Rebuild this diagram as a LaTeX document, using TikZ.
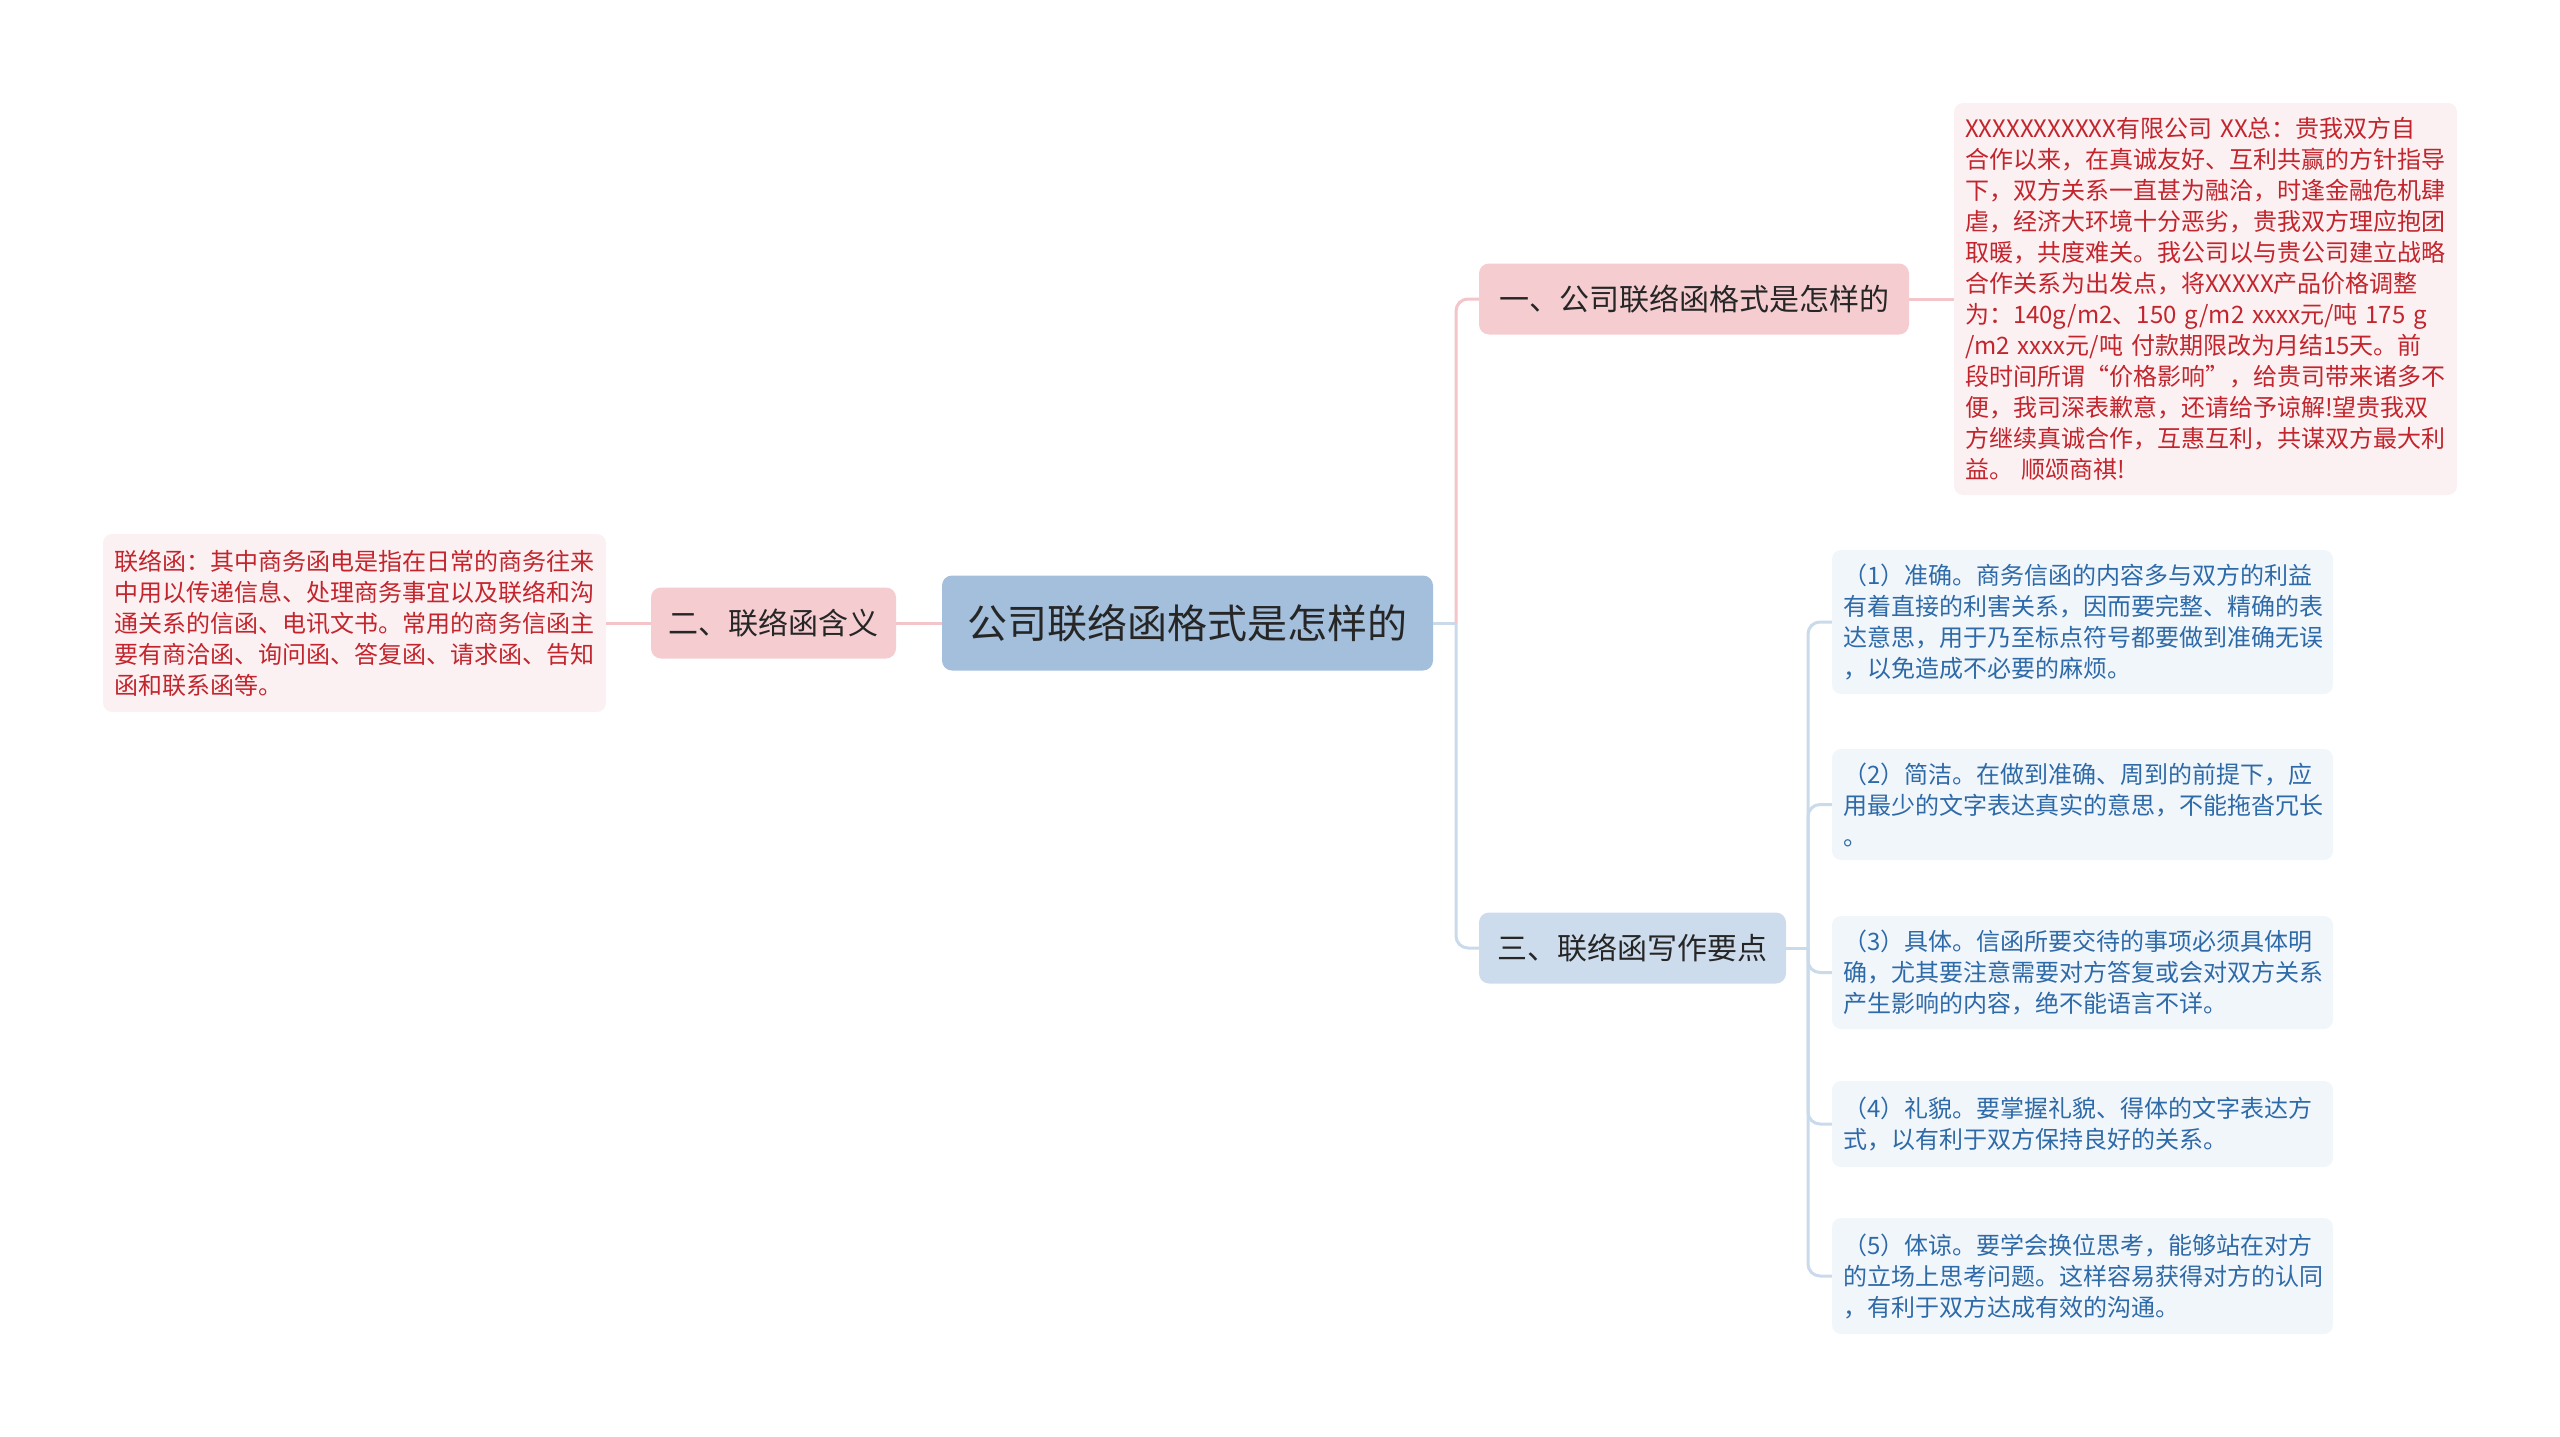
\documentclass[tikz,border=0pt]{standalone}
\usepackage{fontspec}
\setmainfont{Noto Sans CJK SC}
\definecolor{rootfill}{HTML}{A3BFDC}
\definecolor{pinkfill}{HTML}{F5CDD0}
\definecolor{bluefill}{HTML}{CCDCEC}
\definecolor{pinkleaf}{HTML}{FCF1F2}
\definecolor{blueleaf}{HTML}{F1F6FB}
\definecolor{redtext}{HTML}{C2252D}
\definecolor{bluetext}{HTML}{2E6AA8}
\definecolor{darktext}{HTML}{262626}
\definecolor{linepink}{HTML}{F3C5C9}
\definecolor{lineblue}{HTML}{C9DAEA}
\begin{document}
\begin{tikzpicture}[x=1pt,y=-1pt,
  rootbox/.style={fill=rootfill, rounded corners=10pt, minimum width=491pt, minimum height=95pt,
    text=darktext, font=\fontsize{40}{48}\selectfont, inner sep=0pt},
  topicbox/.style={rounded corners=10pt, minimum height=71pt, text=darktext,
    font=\fontsize{30}{36}\selectfont, inner sep=0pt},
  leafbox/.style={rounded corners=9pt, text width=481pt, inner xsep=11pt, inner ysep=0pt,
    align=left, font=\fontsize{24}{31}\selectfont},
  redleaf/.style={leafbox, fill=pinkleaf, text=redtext},
  blueleafbox/.style={leafbox, fill=blueleaf, text=bluetext, text width=479pt},
  pinkline/.style={draw=linepink, line width=3pt},
  blueline/.style={draw=lineblue, line width=3pt},
]
\useasboundingbox (0,0) rectangle (2560,1437);

% root
\node[rootbox] (root) at (1187.5,623) {公司联络函格式是怎样的};

% level 1
\node[topicbox, fill=pinkfill, minimum width=430pt] (t1) at (1694,299) {一、公司联络函格式是怎样的};
\node[topicbox, fill=pinkfill, minimum width=245pt] (t2) at (773.5,623) {二、联络函含义};
\node[topicbox, fill=bluefill, minimum width=307pt] (t3) at (1632.5,948) {三、联络函写作要点};

% leaves
\node[redleaf, minimum height=392pt] (l1) at (2205.5,299) {%
XXXXXXXXXXX有限公司~XX总：贵我双方自\\
合作以来，在真诚友好、互利共赢的方针指导\\
下，双方关系一直甚为融洽，时逢金融危机肆\\
虐，经济大环境十分恶劣，贵我双方理应抱团\\
取暖，共度难关。我公司以与贵公司建立战略\\
合作关系为出发点，将XXXXX产品价格调整\\
为：140g/m2、150~g/m2~xxxx元/吨~175~g\\
/m2~xxxx元/吨~付款期限改为月结15天。前\\
段时间所谓“价格影响”，给贵司带来诸多不\\
便，我司深表歉意，还请给予谅解!望贵我双\\
方继续真诚合作，互惠互利，共谋双方最大利\\
益。~顺颂商祺!};

\node[redleaf, minimum height=178pt] (l2) at (354.5,623) {%
联络函：其中商务函电是指在日常的商务往来\\
中用以传递信息、处理商务事宜以及联络和沟\\
通关系的信函、电讯文书。常用的商务信函主\\
要有商洽函、询问函、答复函、请求函、告知\\
函和联系函等。};

\node[blueleafbox, minimum height=144pt] (b1) at (2082.5,622) {%
（1）准确。商务信函的内容多与双方的利益\\
有着直接的利害关系，因而要完整、精确的表\\
达意思，用于乃至标点符号都要做到准确无误\\
，以免造成不必要的麻烦。};

\node[blueleafbox, minimum height=111pt] (b2) at (2082.5,804.5) {%
（2）简洁。在做到准确、周到的前提下，应\\
用最少的文字表达真实的意思，不能拖沓冗长\\
。};

\node[blueleafbox, minimum height=113pt] (b3) at (2082.5,972.5) {%
（3）具体。信函所要交待的事项必须具体明\\
确，尤其要注意需要对方答复或会对双方关系\\
产生影响的内容，绝不能语言不详。};

\node[blueleafbox, minimum height=86pt] (b4) at (2082.5,1124) {%
（4）礼貌。要掌握礼貌、得体的文字表达方\\
式，以有利于双方保持良好的关系。};

\node[blueleafbox, minimum height=116pt] (b5) at (2082.5,1276) {%
（5）体谅。要学会换位思考，能够站在对方\\
的立场上思考问题。这样容易获得对方的认同\\
，有利于双方达成有效的沟通。};

% connectors
\coordinate (trunk) at (1456,623);
\coordinate (sub) at (1808,948);

\draw[blueline] (root.east) -- (trunk);
\draw[pinkline, rounded corners=12pt] (trunk) |- (t1.west);
\draw[blueline, rounded corners=12pt] (trunk) |- (t3.west);

\draw[pinkline] (root.west) -- (t2.east);
\draw[pinkline] (t2.west) -- (l2.east);

\draw[pinkline] (t1.east) -- (t1.east -| l1.west);

\draw[blueline] (t3.east) -- (sub);
\foreach \b in {b1,b2,b3,b4,b5}
  \draw[blueline, rounded corners=12pt] (sub) |- (\b.west);
\end{tikzpicture}
\end{document}
